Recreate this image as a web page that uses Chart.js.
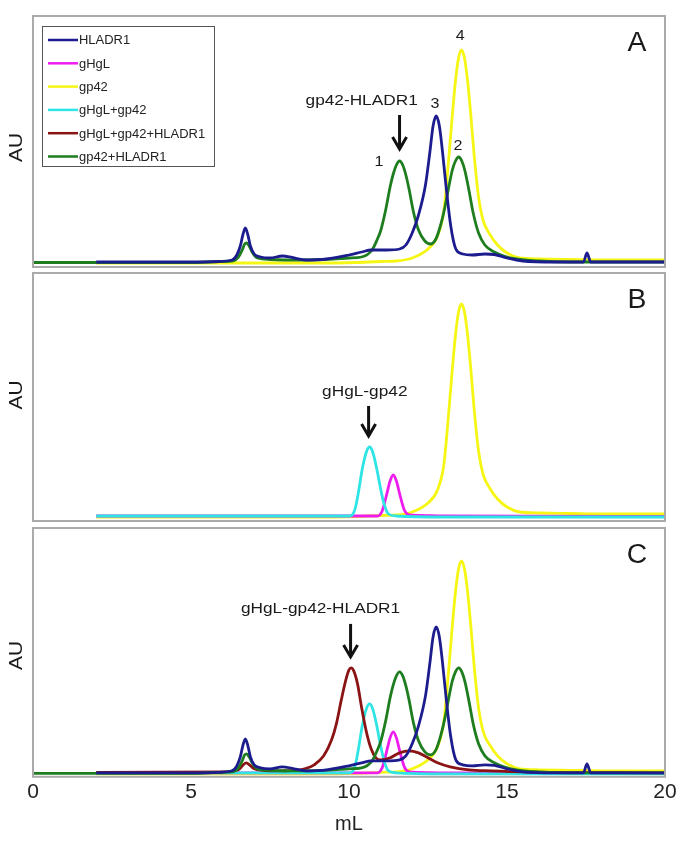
<!DOCTYPE html>
<html>
<head>
<meta charset="utf-8">
<script src="https://cdn.jsdelivr.net/npm/chart.js@4.4.0/dist/chart.umd.min.js"></script>
<style>
  html, body { margin: 0; padding: 0; background: #fff; }
  #wrap { position: relative; width: 690px; height: 842px; }
  .panel { position: absolute; left: 0; width: 690px; }
</style>
</head>
<body>
<div id="wrap">
  <div class="panel" style="top:0;height:272px"><canvas id="chartA"></canvas></div>
  <div class="panel" style="top:272px;height:252px"><canvas id="chartB"></canvas></div>
  <div class="panel" style="top:524px;height:318px"><canvas id="chartC"></canvas></div>
</div>
<script>
// series names / colours (legend order)
const seriesNames = ['HLADR1', 'gHgL', 'gp42', 'gHgL+gp42', 'gHgL+gp42+HLADR1', 'gp42+HLADR1'];
const seriesColors = ['#1c1c8e', '#ee1cee', '#f6f614', '#2ee4e4', '#8a1414', '#1e7d1e'];

// elution volume (mL) and absorbance (arbitrary units)
const hladr1X = [2, 5, 5.9, 6.3, 6.45, 6.56, 6.64, 6.72, 6.8, 6.88, 7.0, 7.2, 7.5, 7.89, 8.2, 8.63, 9.3, 10.0, 10.4, 10.7,
  11.2, 11.6, 11.8, 12.0, 12.2, 12.42, 12.56, 12.66, 12.76, 12.86, 12.96, 13.08, 13.22, 13.38, 13.6, 13.9, 14.3, 14.6, 15.0, 15.5,
  16.5, 17.42, 17.53, 17.65, 18.5, 20];
const hladr1Y = [1, 1, 1.5, 3, 8, 17, 28, 35, 28, 17, 9, 6, 5, 7, 5.5, 3, 4, 8, 11, 13,
  13, 14, 18, 30, 48, 78, 111, 137, 147, 137, 111, 74, 37, 14, 9, 8, 9, 8.5, 5, 2,
  1, 1, 10, 1, 1, 1];

const gHgLX = [2, 10.9, 11.05, 11.18, 11.3, 11.4, 11.5, 11.62, 11.75, 11.9, 12.2, 13, 20];
const gHgLY = [1, 1, 6, 21, 36, 42, 36, 21, 7, 2, 1.5, 1, 0.5];

const gp42X = [2, 9, 10.2, 11, 11.5, 12, 12.5, 12.8, 13.0, 13.16, 13.26, 13.36, 13.46, 13.56, 13.66, 13.76, 13.86, 13.96, 14.1, 14.25,
  14.45, 14.7, 15.0, 15.4, 16, 17, 18, 20];
const gp42Y = [0, 0, 0.5, 1.5, 2, 5, 14, 27, 52, 106, 144, 179, 204, 213, 204, 180, 146, 108, 66, 42,
  29, 18, 10, 5, 4, 3.5, 3, 3];

const gHgLgp42X = [2, 10.0, 10.1, 10.2, 10.3, 10.42, 10.55, 10.65, 10.75, 10.88, 11.0, 11.12, 11.25, 11.5, 13, 20];
const gHgLgp42Y = [1, 1, 2, 9, 25, 48, 65, 70, 65, 48, 28, 12, 3, 1, 0, 0];

const ternaryX = [2, 6.0, 6.5, 6.65, 6.75, 6.85, 7.0, 7.5, 8.3, 8.6, 8.9, 9.2, 9.45, 9.6, 9.75, 9.9, 10.0, 10.07, 10.15, 10.27,
  10.4, 10.55, 10.7, 10.85, 11.0, 11.3, 11.6, 11.9, 12.2, 12.5, 12.8, 13.2, 13.8, 14.5, 15.5, 20];
const ternaryY = [1.5, 2, 4, 9, 11, 9, 5, 3, 3.5, 5, 9, 18, 34, 50, 73, 94, 104, 106, 103, 90,
  66, 42, 25, 16, 14, 16, 21, 23, 21, 16, 11, 7, 4, 3, 2, 1];

const gp42HladrX = [0, 5, 5.9, 6.3, 6.5, 6.62, 6.7, 6.76, 6.84, 6.95, 7.1, 7.5, 8.5, 9.5, 10.0, 10.4, 10.73, 10.9, 11.0, 11.16,
  11.3, 11.4, 11.5, 11.6, 11.7, 11.8, 11.9, 12.04, 12.2, 12.4, 12.58, 12.75, 12.9, 13.03, 13.17, 13.27, 13.37, 13.47, 13.57, 13.67,
  13.8, 13.93, 14.1, 14.3, 14.6, 14.9, 15.3, 16, 17, 20];
const gp42HladrY = [0.5, 0.5, 1.5, 2, 6, 13, 19, 20, 17, 10, 5, 3.5, 3, 4, 5, 6, 13, 24, 32, 53,
  76, 89, 98, 102, 98, 88, 74, 51, 33, 22, 19, 24, 38, 55, 78, 93, 102, 106, 102, 92,
  72, 50, 30, 18, 11, 7, 4, 2, 1, 1];

const seriesX = [hladr1X, gHgLX, gp42X, gHgLgp42X, ternaryX, gp42HladrX];
const seriesY = [hladr1Y, gHgLY, gp42Y, gHgLgp42Y, ternaryY, gp42HladrY];
const drawOrder = [1, 5, 6, 4, 3, 2]; // lower = drawn on top

const xTicks = [0, 5, 10, 15, 20];

const FONT = '"Liberation Sans", Arial, sans-serif';

function points(i) {
  return seriesX[i].map((x, k) => ({ x: x, y: seriesY[i][k] }));
}

function datasets(which) {
  return which.map(i => ({
    label: seriesNames[i],
    data: points(i),
    borderColor: seriesColors[i],
    backgroundColor: 'transparent',
    borderWidth: 2.8,
    pointRadius: 0,
    cubicInterpolationMode: 'monotone',
    order: drawOrder[i]
  }));
}

function wideText(ctx, s, px, py, sx) {
  ctx.save();
  ctx.translate(px, py);
  ctx.scale(sx, 1);
  ctx.fillText(s, 0, 0);
  ctx.restore();
}

// frame, panel letter, "AU", notes, arrows, legend
const decor = {
  id: 'decor',
  afterDatasetsDraw(chart, args, opts) {
    const { ctx, chartArea: a } = chart;
    const xs = chart.scales.x, ys = chart.scales.y;
    ctx.save();
    ctx.strokeStyle = '#aaaaaa';
    ctx.lineWidth = 2;
    ctx.strokeRect(a.left, a.top, a.right - a.left, a.bottom - a.top);

    ctx.fillStyle = '#1a1a1a';
    ctx.textAlign = 'center';
    ctx.textBaseline = 'middle';

    ctx.save();
    ctx.font = '19px ' + FONT;
    ctx.translate(17, (a.top + a.bottom) / 2 + (opts.auShift || 0));
    ctx.rotate(-Math.PI / 2);
    wideText(ctx, 'AU', 0, 0, 1.1);
    ctx.restore();

    ctx.font = '27px ' + FONT;
    wideText(ctx, opts.letter, a.right - 28, a.top + 28, 1.05);

    (opts.notes || []).forEach(n => {
      ctx.font = n.size + 'px ' + FONT;
      wideText(ctx, n.text, xs.getPixelForValue(n.x), ys.getPixelForValue(n.y), 1.15);
    });

    (opts.arrows || []).forEach(r => {
      const px = xs.getPixelForValue(r.x);
      const y0 = ys.getPixelForValue(r.from), y1 = ys.getPixelForValue(r.to);
      ctx.strokeStyle = '#111';
      ctx.lineWidth = 3;
      ctx.lineJoin = 'miter';
      ctx.beginPath();
      ctx.moveTo(px, y0);
      ctx.lineTo(px, y1 - 1);
      ctx.stroke();
      ctx.beginPath();
      ctx.moveTo(px - 7, y1 - 13);
      ctx.lineTo(px, y1 - 1);
      ctx.lineTo(px + 7, y1 - 13);
      ctx.stroke();
    });

    if (opts.legend) {
      const lx = a.left + 9, ly = a.top + 10;
      ctx.strokeStyle = '#555';
      ctx.lineWidth = 1;
      ctx.strokeRect(lx + 0.5, ly + 0.5, 172, 140);
      ctx.textAlign = 'left';
      ctx.font = '12px ' + FONT;
      seriesNames.forEach((name, i) => {
        const yy = ly + 14 + i * 23.3;
        ctx.strokeStyle = seriesColors[i];
        ctx.lineWidth = 2.5;
        ctx.beginPath();
        ctx.moveTo(lx + 6, yy);
        ctx.lineTo(lx + 36, yy);
        ctx.stroke();
        ctx.fillStyle = '#222';
        wideText(ctx, name, lx + 37, yy + 1, 1.08);
      });
    }
    ctx.restore();
  }
};

function makeChart(id, which, yMin, yMax, padding, showX, decorOpts) {
  return new Chart(document.getElementById(id), {
    type: 'line',
    data: { datasets: datasets(which) },
    options: {
      responsive: true,
      maintainAspectRatio: false,
      animation: false,
      events: [],
      layout: { padding: padding },
      plugins: {
        legend: { display: false },
        tooltip: { enabled: false },
        decor: decorOpts
      },
      scales: {
        x: {
          type: 'linear',
          min: 0,
          max: 20,
          display: showX,
          grid: { display: false, drawTicks: false },
          border: { display: false },
          afterBuildTicks: s => { s.ticks = xTicks.map(v => ({ value: v })); },
          ticks: { color: '#222', padding: 3, font: { size: 21, family: FONT } },
          title: { display: true, text: 'mL', color: '#222', font: { size: 20, family: FONT } }
        },
        y: { display: false, min: yMin, max: yMax }
      }
    },
    plugins: [decor]
  });
}

makeChart('chartA', [2, 0, 5], -4, 247, { left: 33, right: 25, top: 16, bottom: 5 }, false, {
  letter: 'A', legend: true, auShift: 6,
  notes: [
    { text: 'gp42-HLADR1', x: 10.4, y: 162, size: 15 },
    { text: '1', x: 10.95, y: 101, size: 14 },
    { text: '2', x: 13.45, y: 117, size: 14 },
    { text: '3', x: 12.72, y: 159, size: 14 },
    { text: '4', x: 13.52, y: 227, size: 14 }
  ],
  arrows: [{ x: 11.6, from: 148, to: 113 }]
});

makeChart('chartB', [2, 1, 3], -4, 244, { left: 33, right: 25, top: 1, bottom: 3 }, false, {
  letter: 'B', auShift: -2,
  notes: [{ text: 'gHgL-gp42', x: 10.5, y: 125, size: 15 }],
  arrows: [{ x: 10.62, from: 111, to: 80 }]
});

makeChart('chartC', [2, 1, 3, 4, 5, 0], -3, 246, { left: 33, right: 25, top: 4, bottom: 2 }, true, {
  letter: 'C', auShift: 3,
  notes: [{ text: 'gHgL-gp42-HLADR1', x: 9.1, y: 165, size: 15 }],
  arrows: [{ x: 10.05, from: 150, to: 116 }]
});
</script>
</body>
</html>
